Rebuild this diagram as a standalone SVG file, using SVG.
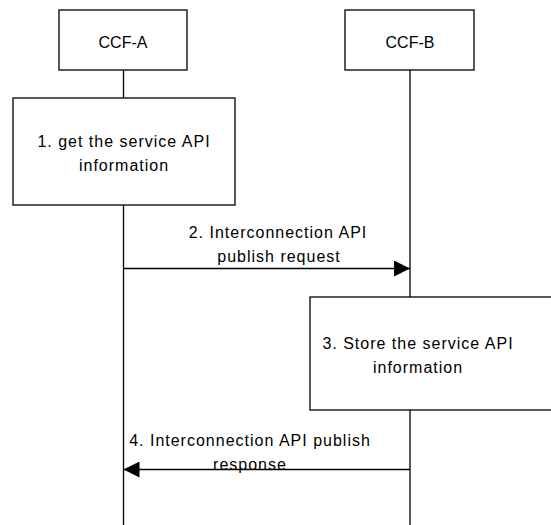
<svg xmlns="http://www.w3.org/2000/svg" width="551" height="525" viewBox="0 0 551 525">
<style>
.box{fill:#fff;stroke:#000;stroke-width:1.3}
.ll{stroke:#000;stroke-width:1.3;fill:none}
.t{font-family:"Liberation Sans",Arial,sans-serif;font-size:16px;fill:#000;text-anchor:middle}
.s{letter-spacing:1px}
</style>
<defs>
<marker id="ah" markerWidth="16" markerHeight="16" refX="16" refY="8" orient="auto" markerUnits="userSpaceOnUse">
<path d="M0,0 L16,8 L0,16 Z" fill="#000"/>
</marker>
</defs>
<g id="lifelines">
<line class="ll" x1="123.5" y1="70" x2="123.5" y2="525"/>
<line class="ll" x1="410" y1="70" x2="410" y2="525"/>
</g>
<g id="ccf-a">
<rect class="box" x="59" y="10" width="128" height="60"/>
<text class="t" x="123" y="48">CCF-A</text>
</g>
<g id="ccf-b">
<rect class="box" x="345" y="10" width="129" height="60"/>
<text class="t" x="410" y="48">CCF-B</text>
</g>
<g id="step1">
<rect class="box" x="13" y="98" width="222" height="107"/>
<text class="t s" x="124" y="147">1. get the service API</text>
<text class="t s" x="124" y="171">information</text>
</g>
<g id="step3">
<rect class="box" x="310" y="297" width="250" height="113"/>
<text class="t s" x="418" y="349">3. Store the service API</text>
<text class="t s" x="418" y="373">information</text>
</g>
<g id="connectors">
<line class="ll" x1="123.5" y1="268.5" x2="410" y2="268.5" marker-end="url(#ah)"/>
<line class="ll" x1="410" y1="469.5" x2="123.5" y2="469.5" marker-end="url(#ah)"/>
</g>
<g id="labels">
<text class="t s" x="278" y="238">2. Interconnection API</text>
<text class="t s" x="279" y="262">publish request</text>
<text class="t s" x="250" y="446">4. Interconnection API publish</text>
<text class="t s" x="250" y="470">response</text>
</g>
</svg>
